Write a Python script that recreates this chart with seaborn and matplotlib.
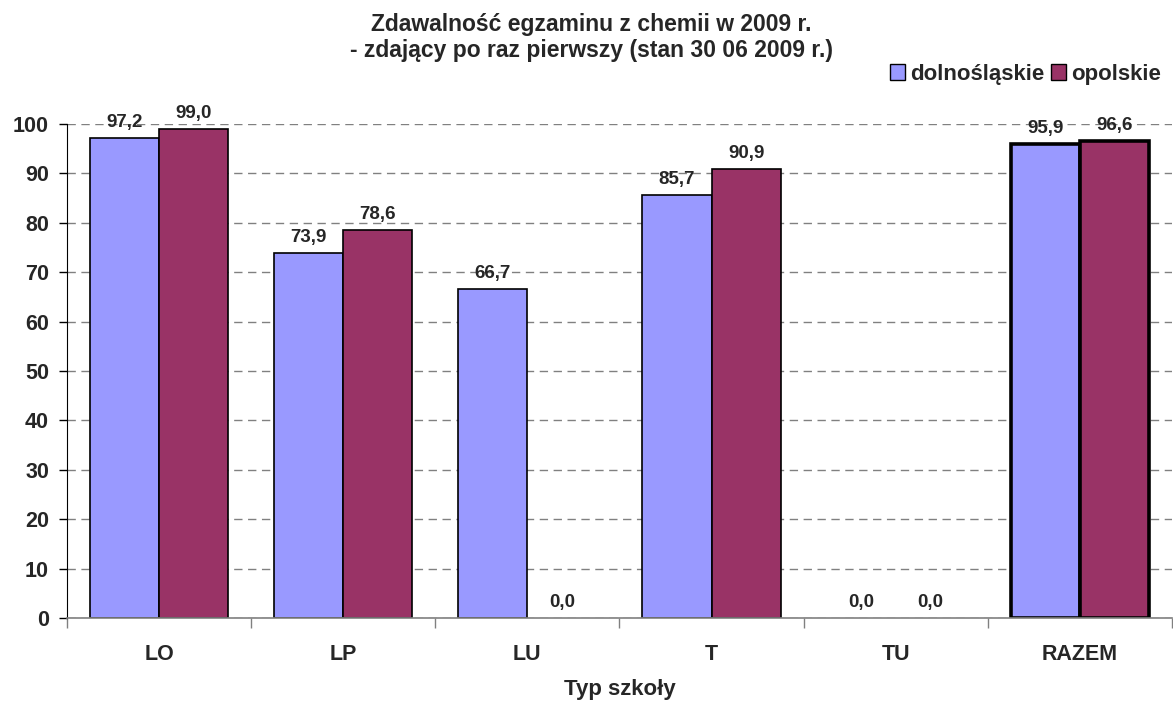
import pandas as pd
import matplotlib
matplotlib.use("Agg")
import matplotlib.pyplot as plt
from matplotlib.patches import Patch
import seaborn as sns

# Data
categories = ['LO', 'LP', 'LU', 'T', 'TU', 'RAZEM']
dolnoslaskie = [97.2, 73.9, 66.7, 85.7, 0.0, 95.9]
opolskie = [99.0, 78.6, 0.0, 90.9, 0.0, 96.6]
series = ['dolnośląskie', 'opolskie']
colors = ['#9999FF', '#993366']

data = pd.DataFrame({
    'typ': categories * 2,
    'region': [series[0]] * len(categories) + [series[1]] * len(categories),
    'value': dolnoslaskie + opolskie,
})

sns.set_style('white')
plt.rcParams['font.family'] = ['Liberation Sans', 'DejaVu Sans']
plt.rcParams['font.weight'] = 'bold'

fig = plt.figure(figsize=(11.73, 7.07), dpi=100)
ax = fig.add_axes([0.0571, 0.1259, 0.9420, 0.6987])

sns.barplot(data=data, x='typ', y='value', hue='region', order=categories,
            hue_order=series, palette=colors, width=0.75, gap=0,
            edgecolor='black', linewidth=1.2, saturation=1, legend=False, ax=ax)

# Bar labels and edge tweaks
for cont in ax.containers:
    for i, bar in enumerate(cont):
        h = bar.get_height()
        if h == 0:
            bar.set_linewidth(0)
        if categories[i] == 'RAZEM':
            bar.set_linewidth(2.6)
        ax.annotate('{:.1f}'.format(h).replace('.', ','),
                    (bar.get_x() + bar.get_width() / 2, h),
                    xytext=(0, 5), textcoords='offset points',
                    ha='center', va='bottom', fontsize=13.5,
                    fontweight='bold', clip_on=False, annotation_clip=False)

ax.set_ylim(0, 100)
ax.set_xlim(-0.5, 5.5)
ax.set_yticks(range(0, 101, 10))
ax.yaxis.grid(True, color='#808080', linestyle=(0, (6, 4)), linewidth=1)
ax.set_axisbelow(True)

ax.spines['top'].set_visible(False)
ax.spines['right'].set_visible(False)
ax.spines['left'].set_color('black')
ax.spines['bottom'].set_color('#808080')
ax.spines['bottom'].set_linewidth(1.2)

ax.tick_params(axis='y', which='major', left=True, length=6, width=1,
               color='black', pad=7, labelsize=15.5)
ax.set_xticks([-0.5 + k for k in range(7)], minor=True)
ax.tick_params(axis='x', which='minor', bottom=True, length=7, width=1,
               color='#808080')
ax.tick_params(axis='x', which='major', length=0, pad=19, labelsize=15.5)
for lab in ax.get_xticklabels() + ax.get_yticklabels():
    lab.set_fontweight('bold')

ax.set_ylabel('')
ax.set_xlabel('Typ szkoły', fontsize=16, fontweight='bold', labelpad=10)

fig.text(0.504, 0.965, 'Zdawalność egzaminu z chemii w 2009 r.',
         ha='center', va='center', fontsize=16.5, fontweight='bold')
fig.text(0.504, 0.929, '- zdający po raz pierwszy (stan 30 06 2009 r.)',
         ha='center', va='center', fontsize=16.5, fontweight='bold')

handles = [Patch(facecolor=c, edgecolor='black', linewidth=1) for c in colors]
fig.legend(handles, series, loc='center right', bbox_to_anchor=(0.999, 0.895),
           frameon=False, ncol=2, prop={'weight': 'bold', 'size': 16},
           handlelength=0.7, handleheight=0.7, handletextpad=0.2,
           columnspacing=0.3, borderpad=0)

fig.savefig('out.png', dpi=100)
